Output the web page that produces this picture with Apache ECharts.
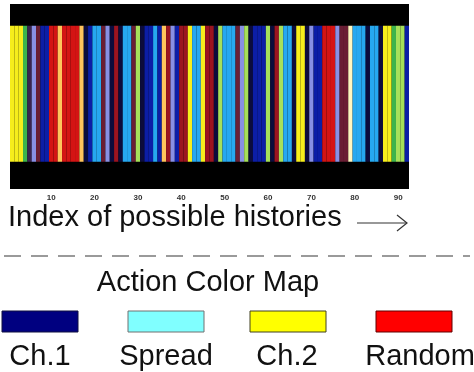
<!DOCTYPE html>
<html>
<head>
<meta charset="utf-8">
<script src="https://cdn.jsdelivr.net/npm/echarts@6/dist/echarts.min.js"></script>
<style>
  html, body { margin: 0; padding: 0; background: #fff; }
  #chart { width: 474px; height: 372px; }
</style>
</head>
<body>
<div id="chart"></div>
<script>
// one action code per history index (1..92) left to right
const actionCodes = [
  'Y', 'Y', 'Y', 'G', 'P', 'L', 'M', 'B', 'B', 'R',
  'R', 'O', 'R', 'R', 'R', 'R', 'O', 'K', 'B', 'C',
  'C', 'M', 'L', 'K', 'D', 'K', 'C', 'C', 'M', 'H',
  'K', 'B', 'B', 'C', 'B', 'O', 'D', 'L', 'B', 'D',
  'D', 'Y', 'C', 'C', 'Y', 'D', 'D', 'K', 'H', 'C',
  'C', 'C', 'M', 'L', 'H', 'K', 'B', 'B', 'B', 'H',
  'K', 'D', 'H', 'C', 'C', 'K', 'Y', 'Y', 'K', 'L',
  'B', 'B', 'R', 'R', 'R', 'L', 'M', 'M', 'W', 'C',
  'C', 'C', 'K', 'C', 'C', 'K', 'Y', 'Y', 'G', 'H',
  'H', 'B',
];
const historyIndex = actionCodes.map((c, i) => String(i + 1));
const tickLabels = ['10', '20', '30', '40', '50', '60', '70', '80', '90'];

// colour of every action code in the strip
const palette = {
  Y: '#f6ee1c', // yellow
  G: '#3cb44c', // green
  H: '#a6e05a', // light green
  P: '#3a2450', // dark purple
  L: '#8890e4', // lavender
  M: '#6a1e34', // maroon
  B: '#0c1ea6', // blue
  K: '#0c0c3c', // near black
  R: '#d41414', // red
  O: '#ffc45c', // light orange
  C: '#26a8f0', // light blue
  D: '#9c1420', // dark red
  W: '#fff6c0', // pale
};

const legendNames = ['Ch.1', 'Spread', 'Ch.2', 'Random'];
const legendColors = ['#000080', '#80ffff', '#ffff00', '#ff0000'];
const legendBorders = ['#101040', '#707070', '#404020', '#600000'];

const chart = echarts.init(document.getElementById('chart'));

const font = '"Liberation Sans", Arial, sans-serif';

// legend boxes under "Action Color Map"
const legendX = [2, 128, 250, 376];
const legendLabelX = [40, 166, 287, 420];
const legendGraphics = [];
legendNames.forEach((name, i) => {
  legendGraphics.push({
    type: 'rect',
    shape: { x: legendX[i], y: 311, width: 76, height: 21 },
    style: { fill: legendColors[i], stroke: legendBorders[i], lineWidth: 1 },
  });
  legendGraphics.push({
    type: 'text',
    x: legendLabelX[i],
    y: 357,
    style: {
      text: name,
      fill: '#111',
      font: '29px ' + font,
      align: 'center',
      verticalAlign: 'middle',
    },
  });
});

const option = {
  animation: false,
  backgroundColor: '#fff',
  grid: {
    left: 10,
    right: 65,
    top: 4,
    bottom: 183,
    show: true,
    backgroundColor: '#000',
    borderWidth: 0,
  },
  xAxis: {
    type: 'category',
    data: historyIndex,
    axisLine: { show: false },
    axisTick: { show: false },
    axisLabel: {
      margin: 5,
      fontSize: 8,
      fontWeight: 'bold',
      color: '#333',
      fontFamily: font,
      interval: (idx, val) => tickLabels.includes(val),
    },
  },
  yAxis: {
    type: 'value',
    min: -0.2,
    max: 1.16,
    show: false,
    splitLine: { show: false },
  },
  series: [
    {
      type: 'bar',
      barWidth: '100%',
      barCategoryGap: 0,
      data: actionCodes.map((c) => ({
        value: 1,
        itemStyle: { color: palette[c] },
      })),
    },
  ],
  graphic: [
    {
      type: 'text',
      x: 8,
      y: 218,
      style: {
        text: 'Index of possible histories',
        fill: '#111',
        font: '29px ' + font,
        align: 'left',
        verticalAlign: 'middle',
      },
    },
    // long arrow after the axis title
    {
      type: 'polyline',
      shape: { points: [[357, 223], [407, 223]] },
      style: { stroke: '#333', lineWidth: 1.2, fill: null },
    },
    {
      type: 'polyline',
      shape: { points: [[397, 215], [407, 223], [397, 231]] },
      style: { stroke: '#333', lineWidth: 1.2, fill: null },
    },
    {
      type: 'line',
      shape: { x1: 4, y1: 256, x2: 470, y2: 256 },
      style: { stroke: '#9a9a9a', lineWidth: 2, lineDash: [17, 10] },
    },
    {
      type: 'text',
      x: 208,
      y: 283,
      style: {
        text: 'Action Color Map',
        fill: '#111',
        font: '29px ' + font,
        align: 'center',
        verticalAlign: 'middle',
      },
    },
    ...legendGraphics,
  ],
};

chart.setOption(option);
</script>
</body>
</html>
